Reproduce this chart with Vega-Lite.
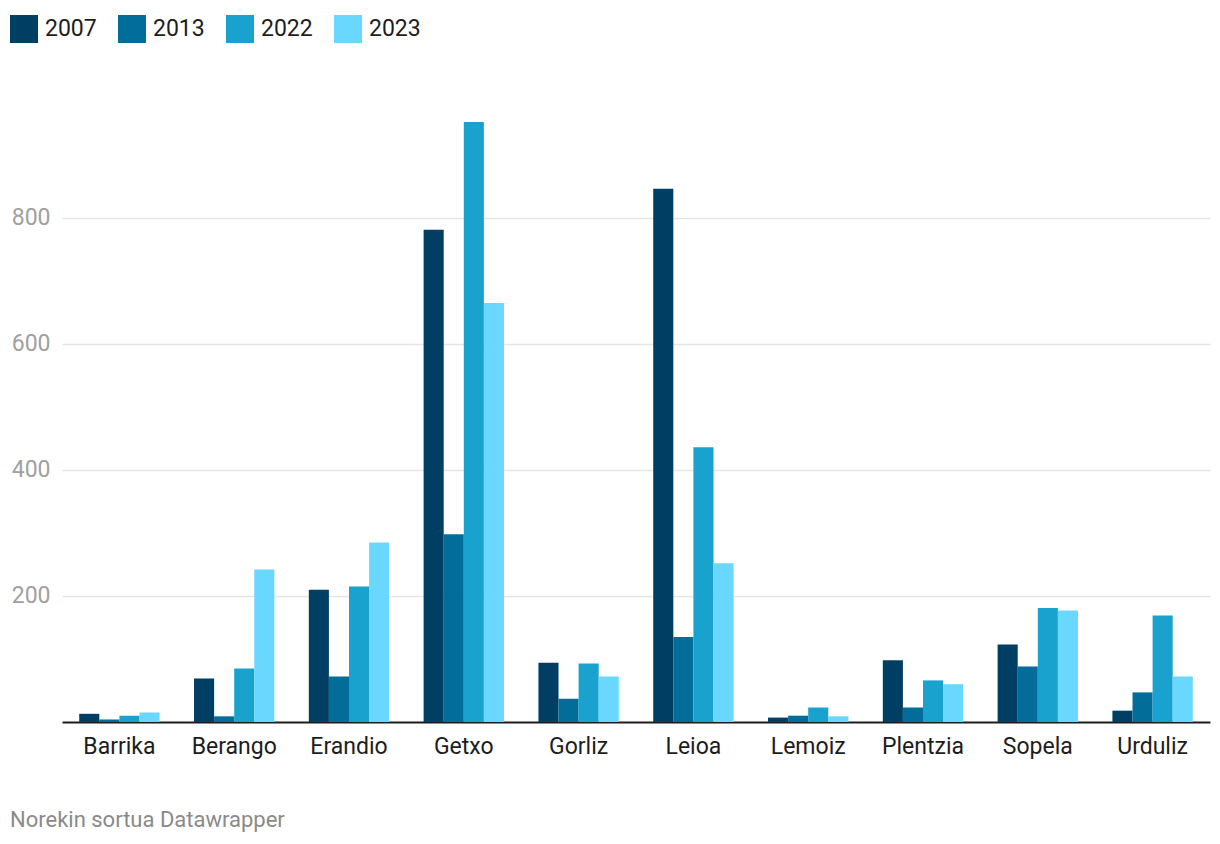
{
  "$schema": "https://vega.github.io/schema/vega-lite/v6.json",
  "width": 1148,
  "height": 600,
  "autosize": {"type": "none"},
  "padding": {"left": 62, "top": 122, "right": 10, "bottom": 122},
  "background": "white",
  "config": {
    "font": "Roboto",
    "view": {"stroke": null},
    "title": {"font": "Roboto"}
  },
  "title": {
    "text": "Norekin sortua Datawrapper",
    "orient": "bottom",
    "anchor": "start",
    "frame": "bounds",
    "fontSize": 22,
    "fontWeight": "normal",
    "color": "#8a8a8a",
    "offset": 52
  },
  "data": {
    "values": [
      {"place": "Barrika", "year": "2007", "value": 13},
      {"place": "Barrika", "year": "2013", "value": 4},
      {"place": "Barrika", "year": "2022", "value": 10},
      {"place": "Barrika", "year": "2023", "value": 15},
      {"place": "Berango", "year": "2007", "value": 69},
      {"place": "Berango", "year": "2013", "value": 9},
      {"place": "Berango", "year": "2022", "value": 85},
      {"place": "Berango", "year": "2023", "value": 242},
      {"place": "Erandio", "year": "2007", "value": 210},
      {"place": "Erandio", "year": "2013", "value": 72},
      {"place": "Erandio", "year": "2022", "value": 215},
      {"place": "Erandio", "year": "2023", "value": 285},
      {"place": "Getxo", "year": "2007", "value": 781},
      {"place": "Getxo", "year": "2013", "value": 298},
      {"place": "Getxo", "year": "2022", "value": 952},
      {"place": "Getxo", "year": "2023", "value": 665},
      {"place": "Gorliz", "year": "2007", "value": 94},
      {"place": "Gorliz", "year": "2013", "value": 37},
      {"place": "Gorliz", "year": "2022", "value": 93},
      {"place": "Gorliz", "year": "2023", "value": 72},
      {"place": "Leioa", "year": "2007", "value": 846},
      {"place": "Leioa", "year": "2013", "value": 135},
      {"place": "Leioa", "year": "2022", "value": 436},
      {"place": "Leioa", "year": "2023", "value": 252},
      {"place": "Lemoiz", "year": "2007", "value": 7},
      {"place": "Lemoiz", "year": "2013", "value": 10},
      {"place": "Lemoiz", "year": "2022", "value": 23},
      {"place": "Lemoiz", "year": "2023", "value": 9},
      {"place": "Plentzia", "year": "2007", "value": 98},
      {"place": "Plentzia", "year": "2013", "value": 23},
      {"place": "Plentzia", "year": "2022", "value": 66},
      {"place": "Plentzia", "year": "2023", "value": 60},
      {"place": "Sopela", "year": "2007", "value": 123},
      {"place": "Sopela", "year": "2013", "value": 88},
      {"place": "Sopela", "year": "2022", "value": 181},
      {"place": "Sopela", "year": "2023", "value": 177},
      {"place": "Urduliz", "year": "2007", "value": 18},
      {"place": "Urduliz", "year": "2013", "value": 47},
      {"place": "Urduliz", "year": "2022", "value": 169},
      {"place": "Urduliz", "year": "2023", "value": 72}
    ]
  },
  "mark": {"type": "bar"},
  "encoding": {
    "x": {
      "field": "place",
      "type": "nominal",
      "sort": null,
      "scale": {"paddingInner": 0.3, "paddingOuter": 0.15},
      "axis": {
        "title": null,
        "labelAngle": 0,
        "labelFontSize": 23,
        "labelColor": "#1d1d1d",
        "labelPadding": 13,
        "ticks": false,
        "domainColor": "#1d1d1d",
        "domainWidth": 2,
        "grid": false
      }
    },
    "xOffset": {
      "field": "year",
      "type": "nominal",
      "scale": {"paddingInner": 0, "paddingOuter": 0}
    },
    "y": {
      "field": "value",
      "type": "quantitative",
      "scale": {"domain": [0, 952], "nice": false},
      "axis": {
        "title": null,
        "values": [200, 400, 600, 800],
        "labelFontSize": 23,
        "labelColor": "#a0a0a0",
        "labelPadding": 12,
        "ticks": false,
        "domain": false,
        "grid": true,
        "gridColor": "#e5e5e5",
        "gridWidth": 1.5
      }
    },
    "color": {
      "field": "year",
      "type": "nominal",
      "scale": {
        "domain": ["2007", "2013", "2022", "2023"],
        "range": ["#003f64", "#026d99", "#1aa2cf", "#6ad7fe"]
      },
      "legend": {
        "title": null,
        "orient": "none",
        "direction": "horizontal",
        "legendX": -52,
        "legendY": -107,
        "padding": 0,
        "symbolType": "square",
        "symbolSize": 784,
        "symbolStrokeWidth": 0,
        "symbolOpacity": 1,
        "labelFontSize": 23,
        "labelColor": "#1d1d1d",
        "labelOffset": 7,
        "columnPadding": 21
      }
    }
  }
}
